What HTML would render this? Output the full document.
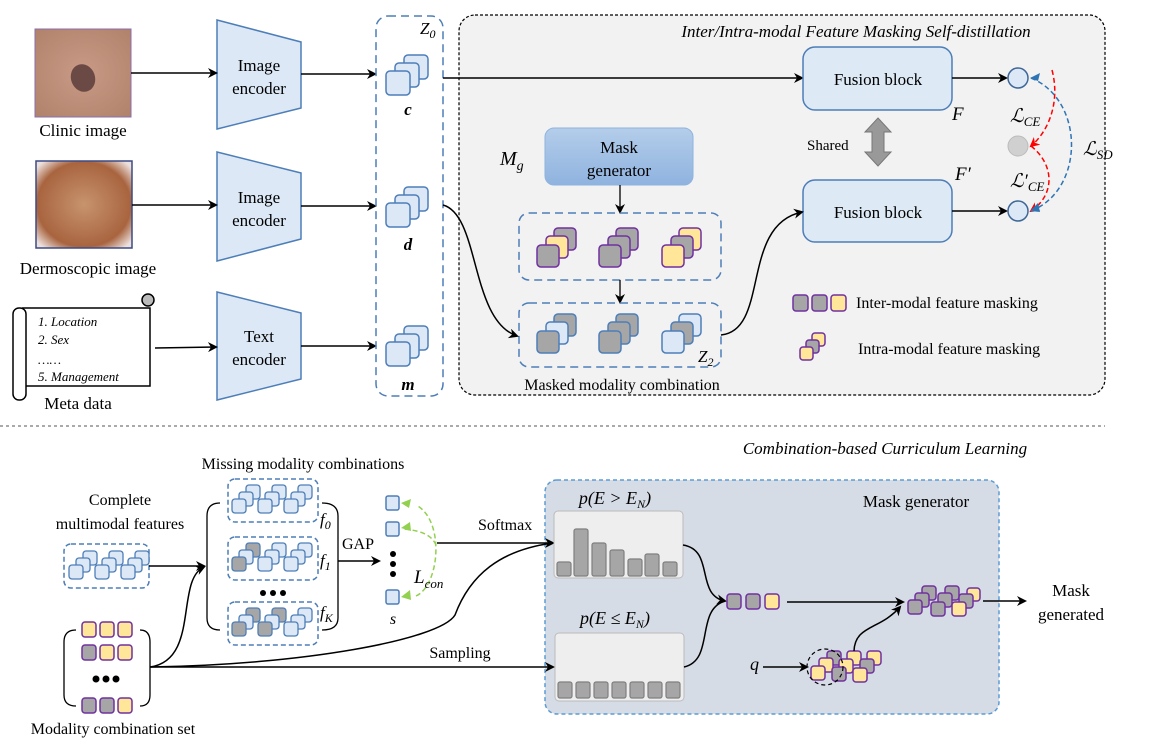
<!DOCTYPE html>
<html><head><meta charset="utf-8"><style>
html,body{margin:0;padding:0;background:#fff}
svg{display:block;font-family:"Liberation Serif",serif}
</style></head><body>
<svg width="1149" height="750" viewBox="0 0 1149 750" xmlns="http://www.w3.org/2000/svg">
<defs>
<marker id="ah" markerWidth="10" markerHeight="10" refX="8" refY="5" orient="auto" markerUnits="userSpaceOnUse"><path d="M0,0 L10,5 L0,10 L3,5z" fill="#000"/></marker>
<marker id="ar" markerWidth="10" markerHeight="10" refX="8" refY="5" orient="auto" markerUnits="userSpaceOnUse"><path d="M0,0 L10,5 L0,10 L3,5z" fill="#f00"/></marker>
<linearGradient id="mg" x1="0" y1="0" x2="0" y2="1"><stop offset="0" stop-color="#b4cdea"/><stop offset="1" stop-color="#8fb3df"/></linearGradient>
<radialGradient id="clin" cx="0.5" cy="0.5" r="0.7"><stop offset="0" stop-color="#c99a85"/><stop offset="1" stop-color="#b0826c"/></radialGradient>
<radialGradient id="derm" cx="0.5" cy="0.5" r="0.65"><stop offset="0" stop-color="#c7946e"/><stop offset="0.75" stop-color="#a8643f"/><stop offset="1" stop-color="#ece0dc"/></radialGradient>
<g id="sb"><rect x="18" y="0" width="24" height="24" rx="4" fill="#dce8f6" stroke="#4d7eb8" stroke-width="1.5"/><rect x="9" y="8" width="24" height="24" rx="4" fill="#dce8f6" stroke="#4d7eb8" stroke-width="1.5"/><rect x="0" y="16" width="24" height="24" rx="4" fill="#dce8f6" stroke="#4d7eb8" stroke-width="1.5"/></g>
<g id="mb"><rect x="14" y="0" width="14" height="14" rx="3" fill="#dce8f6" stroke="#4d7eb8" stroke-width="1.3"/><rect x="7" y="7" width="14" height="14" rx="3" fill="#dce8f6" stroke="#4d7eb8" stroke-width="1.3"/><rect x="0" y="14" width="14" height="14" rx="3" fill="#dce8f6" stroke="#4d7eb8" stroke-width="1.3"/></g>
<g id="mgr"><rect x="14" y="0" width="14" height="14" rx="3" fill="#a6a6a6" stroke="#4d7eb8" stroke-width="1.3"/><rect x="7" y="7" width="14" height="14" rx="3" fill="#dce8f6" stroke="#4d7eb8" stroke-width="1.3"/><rect x="0" y="14" width="14" height="14" rx="3" fill="#a6a6a6" stroke="#4d7eb8" stroke-width="1.3"/></g>
</defs>

<rect x="459" y="15" width="646" height="380" rx="16" fill="#f2f2f2" stroke="#000" stroke-width="1.2" stroke-dasharray="3,2"/>
<text x="856" y="37" font-size="17" font-style="italic" text-anchor="middle">Inter/Intra-modal Feature Masking Self-distillation</text>

<rect x="35" y="29" width="96" height="88" fill="url(#clin)" stroke="#8a6fa8"/>
<ellipse cx="83" cy="78" rx="12" ry="14" fill="#6b4a45" transform="rotate(-20 83 78)"/>
<text x="83" y="136" font-size="17" text-anchor="middle">Clinic image</text>
<rect x="36" y="161" width="96" height="87" fill="url(#derm)" stroke="#3b4a86" stroke-width="1.5"/>
<text x="88" y="274" font-size="17" text-anchor="middle">Dermoscopic image</text>
<path d="M22,308 L150,308 L150,386 L26,386" fill="#fff" stroke="#000" stroke-width="1.5"/>
<rect x="13" y="308" width="13" height="92" rx="6" fill="#fff" stroke="#000" stroke-width="1.5"/>
<circle cx="148" cy="300" r="6" fill="#bbb" stroke="#000" stroke-width="1.5"/>
<g font-size="13" font-style="italic"><text x="38" y="326">1. Location</text><text x="38" y="344">2. Sex</text><text x="38" y="364">……</text><text x="38" y="381">5. Management</text></g>
<text x="78" y="409" font-size="17" text-anchor="middle">Meta data</text>

<g fill="#dce8f6" stroke="#4d7eb8" stroke-width="1.5">
<polygon points="217,20 301,42 301,108 217,129"/>
<polygon points="217,152 301,173 301,239 217,261"/>
<polygon points="217,292 301,313 301,379 217,400"/>
</g>
<g font-size="17" text-anchor="middle"><text x="259" y="71">Image</text><text x="259" y="94">encoder</text>
<text x="259" y="203">Image</text><text x="259" y="226">encoder</text>
<text x="259" y="342">Text</text><text x="259" y="365">encoder</text></g>
<g stroke="#000" stroke-width="1.5" marker-end="url(#ah)"><line x1="131" y1="73" x2="216" y2="73"/><line x1="132" y1="205" x2="216" y2="205"/><line x1="155" y1="348" x2="216" y2="347"/>
<line x1="301" y1="74" x2="375" y2="74"/><line x1="301" y1="206" x2="375" y2="206"/><line x1="301" y1="346" x2="375" y2="346"/></g>

<rect x="376" y="16" width="67" height="380" rx="12" fill="none" stroke="#4d7eb8" stroke-width="1.5" stroke-dasharray="8,5"/>
<text x="420" y="34" font-size="17" font-style="italic">Z<tspan font-size="12" dy="4">0</tspan></text>
<use href="#sb" x="386" y="55"/><use href="#sb" x="386" y="187"/><use href="#sb" x="386" y="326"/>
<g font-size="17" font-weight="bold" font-style="italic" text-anchor="middle"><text x="408" y="115">c</text><text x="408" y="250">d</text><text x="408" y="390">m</text></g>

<line x1="443" y1="78" x2="802" y2="78" stroke="#000" stroke-width="1.5" marker-end="url(#ah)"/>
<rect x="803" y="47" width="149" height="63" rx="12" fill="#dde9f5" stroke="#4d7eb8" stroke-width="1.5"/>
<text x="878" y="85" font-size="17" text-anchor="middle">Fusion block</text>
<rect x="803" y="180" width="149" height="62" rx="12" fill="#dde9f5" stroke="#4d7eb8" stroke-width="1.5"/>
<text x="878" y="218" font-size="17" text-anchor="middle">Fusion block</text>
<text x="952" y="120" font-size="19" font-style="italic">F</text>
<text x="955" y="180" font-size="19" font-style="italic">F′</text>
<text x="807" y="150" font-size="15">Shared</text>
<polygon points="878,118 891,132 884,132 884,152 891,152 878,166 865,152 872,152 872,132 865,132" fill="#999" stroke="#777"/>
<g stroke="#000" stroke-width="1.5" marker-end="url(#ah)"><line x1="952" y1="78" x2="1006" y2="78"/><line x1="952" y1="211" x2="1006" y2="211"/></g>
<circle cx="1018" cy="78" r="10" fill="#dce8f6" stroke="#3e6797" stroke-width="1.5"/>
<circle cx="1018" cy="146" r="10" fill="#d0d0d0" stroke="#bbb"/>
<circle cx="1018" cy="211" r="10" fill="#dce8f6" stroke="#3e6797" stroke-width="1.5"/>
<path d="M1052,70 C1060,100 1050,130 1031,146" fill="none" stroke="#f00" stroke-width="1.5" stroke-dasharray="5,3" marker-end="url(#ar)"/>
<path d="M1031,146 C1055,165 1055,195 1031,211" fill="none" stroke="#f00" stroke-width="1.5" stroke-dasharray="5,3" marker-end="url(#ar)"/>
<path d="M1031,78 C1085,100 1085,190 1031,211" fill="none" stroke="#2e75b6" stroke-width="1.5" stroke-dasharray="5,3"/>
<polygon points="1030,78 1040,73 1038,81" fill="#2e75b6"/>
<polygon points="1030,211 1038,203 1040,212" fill="#2e75b6"/>
<g font-size="19" font-style="italic"><text x="1010" y="122">ℒ<tspan font-size="13" dy="4">CE</tspan></text>
<text x="1010" y="187">ℒ′<tspan font-size="13" dy="4">CE</tspan></text>
<text x="1083" y="155">ℒ<tspan font-size="13" dy="4">SD</tspan></text></g>

<rect x="545" y="128" width="148" height="57" rx="9" fill="url(#mg)" stroke="#8fb3df"/>
<text x="619" y="153" font-size="17" text-anchor="middle">Mask</text>
<text x="619" y="176" font-size="17" text-anchor="middle">generator</text>
<text x="500" y="165" font-size="20" font-style="italic">M<tspan font-size="14" dy="5">g</tspan></text>
<line x1="620" y1="185" x2="620" y2="212" stroke="#000" stroke-width="1.3" marker-end="url(#ah)"/>
<rect x="519" y="213" width="202" height="67" rx="10" fill="none" stroke="#4d7eb8" stroke-width="1.5" stroke-dasharray="8,5"/>
<line x1="620" y1="280" x2="620" y2="302" stroke="#000" stroke-width="1.3" marker-end="url(#ah)"/>
<rect x="519" y="303" width="202" height="64" rx="10" fill="none" stroke="#4d7eb8" stroke-width="1.5" stroke-dasharray="8,5"/>
<g stroke="#7030a0" stroke-width="1.5">
<rect x="554" y="228" width="22" height="22" rx="4" fill="#a6a6a6"/><rect x="546" y="236" width="22" height="22" rx="4" fill="#ffe699"/><rect x="537" y="245" width="22" height="22" rx="4" fill="#a6a6a6"/>
<rect x="616" y="228" width="22" height="22" rx="4" fill="#a6a6a6"/><rect x="608" y="236" width="22" height="22" rx="4" fill="#a6a6a6"/><rect x="599" y="245" width="22" height="22" rx="4" fill="#a6a6a6"/>
<rect x="679" y="228" width="22" height="22" rx="4" fill="#ffe699"/><rect x="671" y="236" width="22" height="22" rx="4" fill="#a6a6a6"/><rect x="662" y="245" width="22" height="22" rx="4" fill="#ffe699"/>
</g>
<g stroke="#4d7eb8" stroke-width="1.5">
<rect x="554" y="314" width="22" height="22" rx="4" fill="#a6a6a6"/><rect x="546" y="322" width="22" height="22" rx="4" fill="#dce8f6"/><rect x="537" y="331" width="22" height="22" rx="4" fill="#a6a6a6"/>
<rect x="616" y="314" width="22" height="22" rx="4" fill="#a6a6a6"/><rect x="608" y="322" width="22" height="22" rx="4" fill="#a6a6a6"/><rect x="599" y="331" width="22" height="22" rx="4" fill="#a6a6a6"/>
<rect x="679" y="314" width="22" height="22" rx="4" fill="#dce8f6"/><rect x="671" y="322" width="22" height="22" rx="4" fill="#a6a6a6"/><rect x="662" y="331" width="22" height="22" rx="4" fill="#dce8f6"/>
</g>
<text x="698" y="362" font-size="17" font-style="italic">Z<tspan font-size="12" dy="4">2</tspan></text>
<text x="622" y="390" font-size="16" text-anchor="middle">Masked modality combination</text>
<path d="M443,205 C480,215 470,320 517,336" fill="none" stroke="#000" stroke-width="1.5" marker-end="url(#ah)"/>
<path d="M721,335 C770,330 740,225 802,212" fill="none" stroke="#000" stroke-width="1.5" marker-end="url(#ah)"/>
<g stroke="#7030a0" stroke-width="1.5"><rect x="793" y="295" width="15" height="16" rx="3" fill="#a6a6a6"/><rect x="812" y="295" width="15" height="16" rx="3" fill="#a6a6a6"/><rect x="831" y="295" width="15" height="16" rx="3" fill="#ffe699"/>
<rect x="812" y="333" width="13" height="13" rx="3" fill="#ffe699"/><rect x="806" y="340" width="13" height="13" rx="3" fill="#a6a6a6"/><rect x="800" y="347" width="13" height="13" rx="3" fill="#ffe699"/></g>
<text x="856" y="308" font-size="16">Inter-modal feature masking</text>
<text x="858" y="354" font-size="16">Intra-modal feature masking</text>

<line x1="0" y1="426" x2="1105" y2="426" stroke="#555" stroke-width="1" stroke-dasharray="3,3"/>
<text x="885" y="454" font-size="17" font-style="italic" text-anchor="middle">Combination-based Curriculum Learning</text>

<!-- mask generator bottom box first -->
<rect x="545" y="480" width="454" height="234" rx="12" fill="#d6dce5" stroke="#5b9bd5" stroke-width="1.5" stroke-dasharray="4,3"/>

<text x="303" y="469" font-size="16" text-anchor="middle">Missing modality combinations</text>
<text x="120" y="505" font-size="16" text-anchor="middle">Complete</text>
<text x="120" y="529" font-size="16" text-anchor="middle">multimodal features</text>
<rect x="64" y="544" width="85" height="44" rx="7" fill="none" stroke="#4d7eb8" stroke-width="1.5" stroke-dasharray="5,3"/>
<use href="#mb" x="69" y="551"/><use href="#mb" x="95" y="551"/><use href="#mb" x="121" y="551"/>
<line x1="149" y1="566" x2="204" y2="566" stroke="#000" stroke-width="1.5" marker-end="url(#ah)"/>

<path d="M220,503 Q207,503 207,516 L207,618 Q207,630 220,630" fill="none" stroke="#000" stroke-width="1.3"/>
<path d="M322,503 Q338,503 338,516 L338,618 Q338,630 322,630" fill="none" stroke="#000" stroke-width="1.3"/>
<rect x="228" y="479" width="90" height="43" rx="7" fill="#fff" stroke="#4d7eb8" stroke-width="1.5" stroke-dasharray="5,3"/>
<rect x="228" y="537" width="90" height="43" rx="7" fill="#fff" stroke="#4d7eb8" stroke-width="1.5" stroke-dasharray="5,3"/>
<rect x="228" y="602" width="90" height="43" rx="7" fill="#fff" stroke="#4d7eb8" stroke-width="1.5" stroke-dasharray="5,3"/>
<use href="#mb" x="232" y="485"/><use href="#mb" x="258" y="485"/><use href="#mb" x="284" y="485"/>
<use href="#mgr" x="232" y="543"/><use href="#mb" x="258" y="543"/><use href="#mb" x="284" y="543"/>
<use href="#mgr" x="232" y="608"/><use href="#mgr" x="258" y="608"/><use href="#mb" x="284" y="608"/>
<g fill="#000"><circle cx="263" cy="593" r="3"/><circle cx="273" cy="593" r="3"/><circle cx="283" cy="593" r="3"/></g>
<g font-size="17" font-style="italic"><text x="320" y="525">f<tspan font-size="12" dy="4">0</tspan></text><text x="320" y="566">f<tspan font-size="12" dy="4">1</tspan></text><text x="320" y="618">f<tspan font-size="12" dy="4">K</tspan></text></g>
<text x="342" y="549" font-size="16">GAP</text>
<line x1="338" y1="561" x2="379" y2="561" stroke="#000" stroke-width="1.5" marker-end="url(#ah)"/>

<g fill="#dce8f6" stroke="#4d7eb8" stroke-width="1.5"><rect x="386" y="496" width="13" height="14" rx="2"/><rect x="386" y="522" width="13" height="14" rx="2"/><rect x="386" y="590" width="13" height="14" rx="2"/></g>
<g fill="#000"><circle cx="393" cy="554" r="3"/><circle cx="393" cy="564" r="3"/><circle cx="393" cy="574" r="3"/></g>
<text x="393" y="624" font-size="16" font-style="italic" text-anchor="middle">s</text>
<path d="M416,596 C440,585 445,520 416,505" fill="none" stroke="#92d050" stroke-width="1.5" stroke-dasharray="5,3"/>
<polygon points="401,503 411,499 409,508" fill="#92d050"/>
<polygon points="401,528 410,522 411,531" fill="#92d050"/>
<polygon points="401,597 410,590 411,600" fill="#92d050"/>
<path d="M436,545 C432,535 420,530 402,529" fill="none" stroke="#92d050" stroke-width="1.5" stroke-dasharray="5,3"/>
<text x="414" y="583" font-size="19" font-style="italic">L<tspan font-size="13" dy="5">con</tspan></text>
<text x="478" y="530" font-size="16">Softmax</text>
<line x1="437" y1="543" x2="553" y2="543" stroke="#000" stroke-width="1.5" marker-end="url(#ah)"/>

<path d="M76,630 Q64,630 64,642 L64,695 Q64,706 76,706" fill="none" stroke="#000" stroke-width="1.3"/>
<path d="M140,630 Q150,630 150,642 L150,695 Q150,706 140,706" fill="none" stroke="#000" stroke-width="1.3"/>
<g stroke="#7030a0" stroke-width="1.5">
<rect x="82" y="622" width="14" height="15" rx="3" fill="#ffe699"/><rect x="100" y="622" width="14" height="15" rx="3" fill="#ffe699"/><rect x="118" y="622" width="14" height="15" rx="3" fill="#ffe699"/>
<rect x="82" y="645" width="14" height="15" rx="3" fill="#a6a6a6"/><rect x="100" y="645" width="14" height="15" rx="3" fill="#ffe699"/><rect x="118" y="645" width="14" height="15" rx="3" fill="#ffe699"/>
<rect x="82" y="698" width="14" height="15" rx="3" fill="#a6a6a6"/><rect x="100" y="698" width="14" height="15" rx="3" fill="#a6a6a6"/><rect x="118" y="698" width="14" height="15" rx="3" fill="#ffe699"/>
</g>
<g fill="#000"><circle cx="96" cy="679" r="3.5"/><circle cx="106" cy="679" r="3.5"/><circle cx="116" cy="679" r="3.5"/></g>
<text x="113" y="734" font-size="16" text-anchor="middle">Modality combination set</text>
<path d="M150,667 C200,660 175,580 204,567" fill="none" stroke="#000" stroke-width="1.5" marker-end="url(#ah)"/>
<path d="M150,667 C300,665 440,640 455,615 C470,575 500,550 553,543" fill="none" stroke="#000" stroke-width="1.5"/>
<line x1="150" y1="667" x2="553" y2="667" stroke="#000" stroke-width="1.5" marker-end="url(#ah)"/>
<text x="460" y="658" font-size="16" text-anchor="middle">Sampling</text>

<text x="916" y="507" font-size="17" text-anchor="middle">Mask generator</text>
<text x="615" y="504" font-size="18" font-style="italic" text-anchor="middle">p(E &gt; E<tspan font-size="12" dy="4">N</tspan><tspan dy="-4">)</tspan></text>
<text x="615" y="624" font-size="18" font-style="italic" text-anchor="middle">p(E ≤ E<tspan font-size="12" dy="4">N</tspan><tspan dy="-4">)</tspan></text>
<rect x="554" y="511" width="129" height="67" rx="4" fill="#eeeeee" stroke="#bbb"/>
<rect x="555" y="633" width="129" height="68" rx="4" fill="#eeeeee" stroke="#bbb"/>
<g fill="#a6a6a6" stroke="#7f7f7f" stroke-width="1.2">
<rect x="557" y="562" width="14" height="14" rx="2"/><rect x="574" y="529" width="14" height="47" rx="2"/><rect x="592" y="543" width="14" height="33" rx="2"/><rect x="610" y="550" width="14" height="26" rx="2"/><rect x="628" y="559" width="14" height="17" rx="2"/><rect x="645" y="554" width="14" height="22" rx="2"/><rect x="663" y="562" width="14" height="14" rx="2"/>
<rect x="558" y="682" width="14" height="16" rx="2"/><rect x="576" y="682" width="14" height="16" rx="2"/><rect x="594" y="682" width="14" height="16" rx="2"/><rect x="612" y="682" width="14" height="16" rx="2"/><rect x="630" y="682" width="14" height="16" rx="2"/><rect x="648" y="682" width="14" height="16" rx="2"/><rect x="666" y="682" width="14" height="16" rx="2"/>
</g>
<path d="M683,545 C715,550 695,595 725,601" fill="none" stroke="#000" stroke-width="1.5" marker-end="url(#ah)"/>
<path d="M684,667 C715,660 695,610 725,601" fill="none" stroke="#000" stroke-width="1.5"/>
<g stroke="#7030a0" stroke-width="1.5"><rect x="727" y="594" width="14" height="15" rx="3" fill="#a6a6a6"/><rect x="746" y="594" width="14" height="15" rx="3" fill="#a6a6a6"/><rect x="765" y="594" width="14" height="15" rx="3" fill="#ffe699"/></g>
<line x1="787" y1="602" x2="903" y2="602" stroke="#000" stroke-width="1.5" marker-end="url(#ah)"/>
<g stroke="#7030a0" stroke-width="1.5">
<rect x="922" y="586" width="14" height="14" rx="3" fill="#a6a6a6"/><rect x="945" y="586" width="14" height="14" rx="3" fill="#a6a6a6"/><rect x="967" y="588" width="13" height="13" rx="3" fill="#ffe699"/>
<rect x="915" y="593" width="14" height="14" rx="3" fill="#a6a6a6"/><rect x="938" y="593" width="14" height="14" rx="3" fill="#a6a6a6"/><rect x="959" y="594" width="14" height="14" rx="3" fill="#a6a6a6"/>
<rect x="908" y="600" width="14" height="14" rx="3" fill="#a6a6a6"/><rect x="931" y="602" width="14" height="14" rx="3" fill="#a6a6a6"/><rect x="952" y="602" width="14" height="14" rx="3" fill="#ffe699"/>
</g>
<line x1="983" y1="601" x2="1025" y2="601" stroke="#000" stroke-width="1.5" marker-end="url(#ah)"/>
<text x="1071" y="596" font-size="17" text-anchor="middle">Mask</text>
<text x="1071" y="620" font-size="17" text-anchor="middle">generated</text>
<text x="750" y="670" font-size="18" font-style="italic">q</text>
<line x1="763" y1="667" x2="807" y2="667" stroke="#000" stroke-width="1.5" marker-end="url(#ah)"/>
<g stroke="#7030a0" stroke-width="1.5">
<rect x="827" y="651" width="14" height="14" rx="3" fill="#a6a6a6"/><rect x="847" y="651" width="14" height="14" rx="3" fill="#ffe699"/><rect x="867" y="651" width="14" height="14" rx="3" fill="#ffe699"/>
<rect x="819" y="658" width="14" height="14" rx="3" fill="#ffe699"/><rect x="839" y="659" width="14" height="14" rx="3" fill="#ffe699"/><rect x="860" y="659" width="14" height="14" rx="3" fill="#a6a6a6"/>
<rect x="811" y="666" width="14" height="14" rx="3" fill="#ffe699"/><rect x="832" y="667" width="14" height="14" rx="3" fill="#a6a6a6"/><rect x="853" y="668" width="14" height="14" rx="3" fill="#ffe699"/>
</g>
<circle cx="825" cy="667" r="18" fill="none" stroke="#000" stroke-width="1.2" stroke-dasharray="4,3"/>
<path d="M854,651 C855,625 880,630 900,607" fill="none" stroke="#000" stroke-width="1.5" marker-end="url(#ah)"/>
</svg>
</body></html>
